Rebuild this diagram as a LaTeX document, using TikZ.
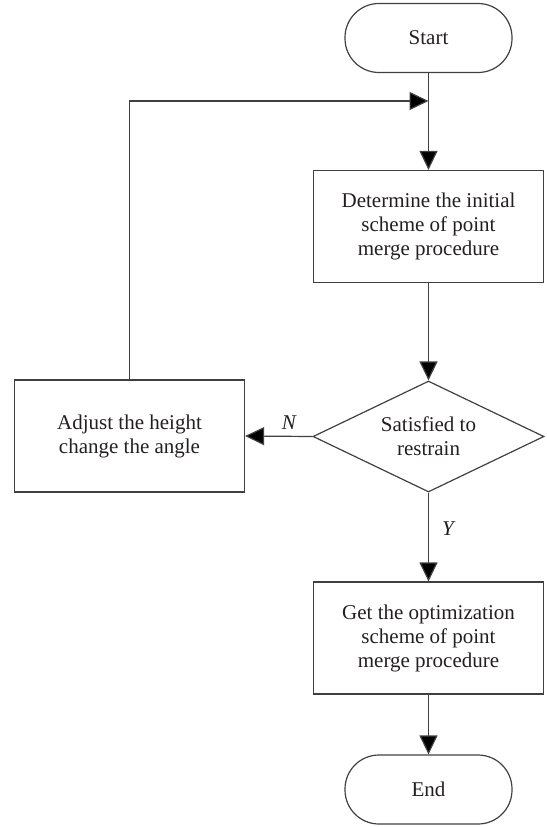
\documentclass[tikz,border=0pt]{standalone}
\usepackage{fontspec}
\setmainfont{Liberation Serif}
\usetikzlibrary{arrows.meta,shapes.geometric}
\definecolor{ln}{HTML}{404040}
\definecolor{tx}{HTML}{231F20}
\begin{document}
\begin{tikzpicture}[x=1pt,y=-1pt,
  every node/.style={font=\fontsize{21}{24}\selectfont, text=tx, align=center, inner sep=0pt},
  box/.style={draw=ln, line width=1.2pt, rectangle, minimum width=230pt, minimum height=112pt},
  pill/.style={draw=ln, line width=1.2pt, rectangle, rounded corners=34pt, minimum width=167pt, minimum height=69pt},
  dia/.style={draw=ln, line width=1.2pt, diamond, shape aspect=2.08, minimum width=231pt, minimum height=111pt},
  conn/.style={draw=ln, line width=1.2pt, -{Triangle[length=19pt,width=18pt,fill=black]}},
  lbl/.style={font=\fontsize{21}{24}\selectfont\itshape}]
\useasboundingbox (0,0) rectangle (546,827);
\node[pill] (start) at (428.5,38) {Start};
\node[box] (b1) at (428.5,226.5) {Determine the initial\\scheme of point\\merge procedure};
\node[dia] (d) at (428.5,436.5) {Satisfied to\\restrain};
\node[box] (adj) at (129.5,436) {Adjust the height\\change the angle};
\node[box] (b2) at (428.5,638) {Get the optimization\\scheme of point\\merge procedure};
\node[pill] (end) at (428.5,789.5) {End};
\coordinate (jn) at (428.5,101);
\draw[conn] (start.south) -- (b1.north);
\draw[conn] (adj.north) |- (jn);
\draw[conn] (b1.south) -- (d.north);
\draw[conn] (d.west) -- node[lbl, above=6pt, pos=0.35] {N} (adj.east);
\draw[conn] (d.south) -- node[lbl, right=13pt, pos=0.4] {Y} (b2.north);
\draw[conn] (b2.south) -- (end.north);
\end{tikzpicture}
\end{document}
